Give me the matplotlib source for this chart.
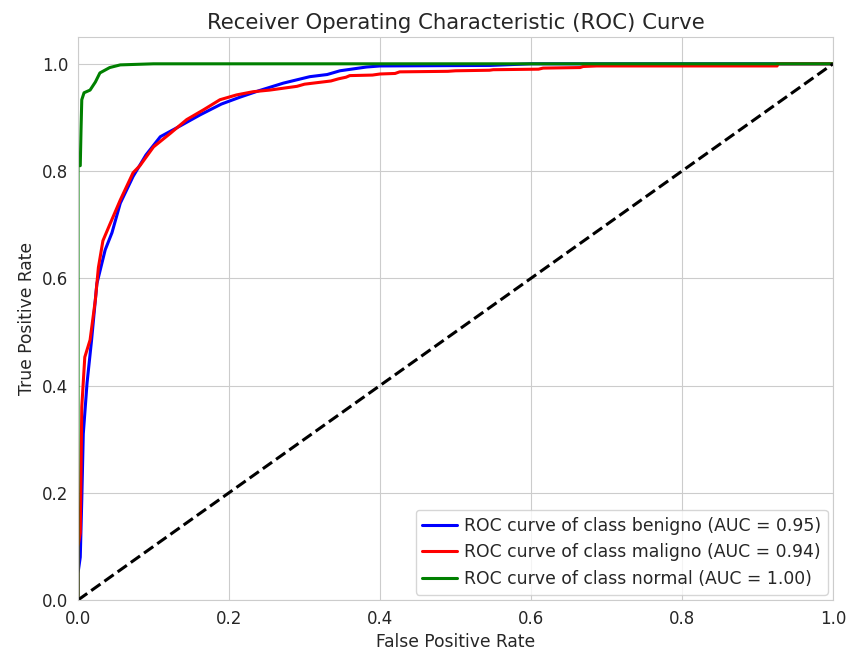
import matplotlib
matplotlib.use("Agg")
import matplotlib.pyplot as plt
import seaborn as sns

sns.set_style("whitegrid")

# ROC points
benigno_fpr = [0.0, 0.0, 0.003, 0.005, 0.007, 0.012, 0.018, 0.025, 0.036, 0.045, 0.056, 0.073,
               0.09, 0.109, 0.13, 0.162, 0.19, 0.215, 0.24, 0.272, 0.307, 0.33, 0.347, 0.382,
               0.4, 0.546, 0.6, 1.0]
benigno_tpr = [0.0, 0.05, 0.08, 0.187, 0.31, 0.405, 0.485, 0.59, 0.653, 0.685, 0.74, 0.79,
               0.83, 0.864, 0.88, 0.905, 0.925, 0.938, 0.95, 0.964, 0.976, 0.98, 0.987, 0.994,
               0.996, 0.997, 1.0, 1.0]

maligno_fpr = [0.0, 0.0, 0.003, 0.005, 0.009, 0.016, 0.023, 0.027, 0.033, 0.042, 0.056, 0.073,
               0.082, 0.1, 0.122, 0.144, 0.166, 0.188, 0.21, 0.232, 0.254, 0.29, 0.3, 0.335,
               0.345, 0.355, 0.36, 0.39, 0.4, 0.42, 0.426, 0.49, 0.5, 0.545, 0.55, 0.61,
               0.616, 0.665, 0.669, 0.687, 0.926, 0.926, 1.0]
maligno_tpr = [0.0, 0.1, 0.125, 0.36, 0.453, 0.485, 0.56, 0.62, 0.67, 0.70, 0.746, 0.797,
               0.81, 0.845, 0.87, 0.896, 0.914, 0.933, 0.942, 0.948, 0.951, 0.958, 0.962, 0.968,
               0.972, 0.975, 0.978, 0.979, 0.981, 0.982, 0.985, 0.986, 0.987, 0.988, 0.989, 0.990,
               0.992, 0.993, 0.995, 0.996, 0.996, 1.0, 1.0]

normal_fpr = [0.0, 0.0, 0.003, 0.004, 0.005, 0.008, 0.016, 0.023, 0.029, 0.042, 0.056, 0.1, 1.0]
normal_tpr = [0.0, 0.81, 0.81, 0.877, 0.933, 0.946, 0.951, 0.966, 0.983, 0.993, 0.998, 1.0, 1.0]

class_names = ["benigno", "maligno", "normal"]
auc_values = [0.95, 0.94, 1.00]
colors = ["blue", "red", "green"]

fprs = [benigno_fpr, maligno_fpr, normal_fpr]
tprs = [benigno_tpr, maligno_tpr, normal_tpr]

fig = plt.figure(figsize=(8.49, 6.55), dpi=100)
ax = fig.add_axes([78 / 849, 1 - 600 / 655, (833 - 78) / 849, (600 - 37) / 655])

for i in range(3):
    ax.plot(fprs[i], tprs[i], color=colors[i], lw=2.2,
            label="ROC curve of class {0} (AUC = {1:0.2f})".format(class_names[i], auc_values[i]))

ax.plot([0, 1], [0, 1], "k--", lw=2.2)
ax.set_xlim([0.0, 1.0])
ax.set_ylim([0.0, 1.05])
ax.set_xlabel("False Positive Rate", fontsize=12.3)
ax.set_ylabel("True Positive Rate", fontsize=12.3)
ax.set_title("Receiver Operating Characteristic (ROC) Curve", fontsize=15.3)
ax.tick_params(labelsize=12)
ax.legend(loc="lower right", fontsize=12.4, handletextpad=0.4, borderaxespad=0.3)

fig.savefig("out.png", dpi=100)
